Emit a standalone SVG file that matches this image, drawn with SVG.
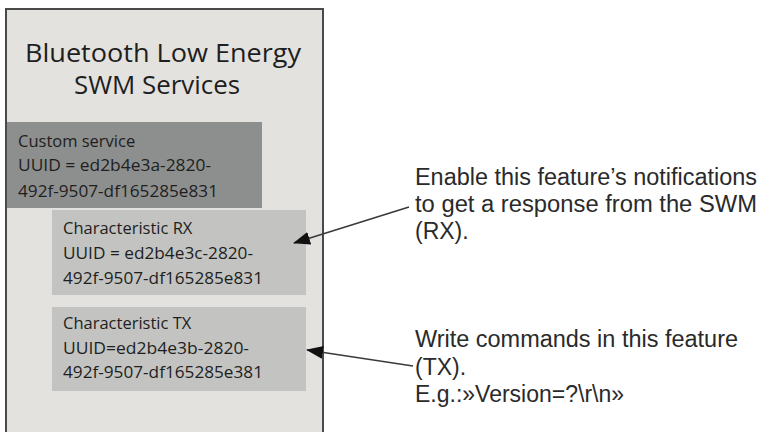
<svg xmlns="http://www.w3.org/2000/svg" width="762" height="432" viewBox="0 0 762 432">
<style>
.box{font-family:"Open Sans","Noto Sans","Liberation Sans",sans-serif;font-size:16.5px;fill:#1e1e1e}
.title{font-family:"Open Sans","Noto Sans","Liberation Sans",sans-serif;font-size:25px;fill:#1e1e1e;text-anchor:middle}
.note{font-family:"Liberation Sans",Arial,sans-serif;font-size:23px;fill:#2a2a2a}
.conn{stroke:#3a3a3a;stroke-width:1.6;fill:none;marker-end:url(#ah)}
</style>
<defs>
<marker id="ah" viewBox="0 0 17 13" refX="16" refY="6.5" markerWidth="17" markerHeight="13" markerUnits="userSpaceOnUse" orient="auto">
<path d="M0,0 L17,6.5 L0,13 Z" fill="#111"/>
</marker>
</defs>
<rect width="762" height="432" fill="#ffffff"/>
<g id="panel">
<rect x="6" y="9" width="317" height="440" fill="#e4e2df" stroke="#4a4a4a" stroke-width="2"/>
<text class="title" x="163" y="62" textLength="276" lengthAdjust="spacingAndGlyphs">Bluetooth Low Energy</text>
<text class="title" x="157" y="94" textLength="166" lengthAdjust="spacingAndGlyphs">SWM Services</text>
</g>
<g id="custom-service">
<rect x="7" y="122" width="255" height="86" fill="#8d8f8e"/>
<text class="box" x="18" y="147">Custom service</text>
<text class="box" x="18" y="171" textLength="193" lengthAdjust="spacingAndGlyphs">UUID = ed2b4e3a-2820-</text>
<text class="box" x="18" y="197" textLength="200" lengthAdjust="spacingAndGlyphs">492f-9507-df165285e831</text>
</g>
<g id="char-rx">
<rect x="52" y="210" width="254" height="85" fill="#c3c4c1"/>
<text class="box" x="63" y="234">Characteristic RX</text>
<text class="box" x="63" y="259" textLength="190" lengthAdjust="spacingAndGlyphs">UUID = ed2b4e3c-2820-</text>
<text class="box" x="63" y="284" textLength="200" lengthAdjust="spacingAndGlyphs">492f-9507-df165285e831</text>
</g>
<g id="char-tx">
<rect x="52" y="307" width="254" height="84" fill="#c3c4c1"/>
<text class="box" x="63" y="329">Characteristic TX</text>
<text class="box" x="63" y="354" textLength="186" lengthAdjust="spacingAndGlyphs">UUID=ed2b4e3b-2820-</text>
<text class="box" x="63" y="378" textLength="200" lengthAdjust="spacingAndGlyphs">492f-9507-df165285e381</text>
</g>
<g id="note-rx">
<text class="note" x="415" y="185" textLength="342" lengthAdjust="spacingAndGlyphs">Enable this feature’s notifications</text>
<text class="note" x="415" y="212" textLength="342" lengthAdjust="spacingAndGlyphs">to get a response from the SWM</text>
<text class="note" x="415" y="239">(RX).</text>
</g>
<g id="note-tx">
<text class="note" x="415" y="347" textLength="323" lengthAdjust="spacingAndGlyphs">Write commands in this feature</text>
<text class="note" x="415" y="375">(TX).</text>
<text class="note" x="415" y="402">E.g.:»Version=?\r\n»</text>
</g>
<g id="connectors">
<line class="conn" x1="409" y1="207" x2="294" y2="243"/>
<line class="conn" x1="413" y1="366" x2="307" y2="350"/>
</g>
</svg>
